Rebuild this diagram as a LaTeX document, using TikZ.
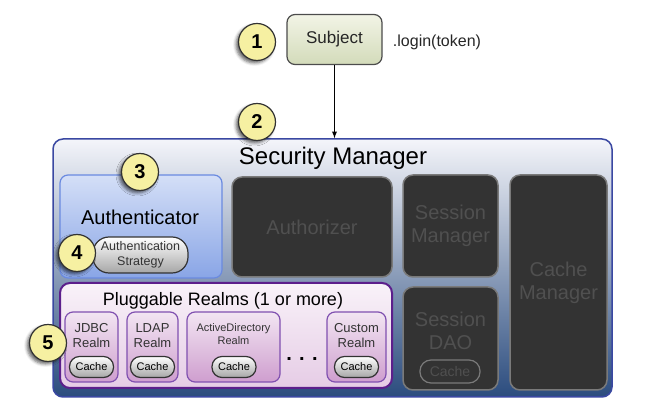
\documentclass[tikz,border=0pt]{standalone}
\usepackage{fontspec}
\setmainfont{Liberation Sans}
\usepackage{tikz}
\usetikzlibrary{arrows,shadows.blur}

\definecolor{smedge}{HTML}{3A48A2}
\definecolor{smtop}{HTML}{F4F5FA}
\definecolor{smmid}{HTML}{A3B2C6}
\definecolor{smbot}{HTML}{2B4C7E}
\definecolor{autop}{HTML}{D4DFF7}
\definecolor{aubot}{HTML}{89A5E6}
\definecolor{auedge}{HTML}{6A8AE0}
\definecolor{darkfill}{HTML}{333333}
\definecolor{darkedge}{HTML}{7A7A7A}
\definecolor{darktext}{HTML}{505050}
\definecolor{plugedge}{HTML}{5C1F8C}
\definecolor{realmedge}{HTML}{8050B0}
\definecolor{numfill}{HTML}{F6F0A2}
\definecolor{subtop}{HTML}{F2F4E6}
\definecolor{subbot}{HTML}{D3DBBA}

\tikzset{
  num/.style={circle, draw=black!80, line width=1.2pt, fill=numfill, minimum size=37pt,
    inner sep=0pt, font=\fontsize{20}{20}\selectfont\bfseries,
    blur shadow={shadow xshift=-2.5pt, shadow yshift=-2.5pt, shadow blur radius=3pt, shadow opacity=60}},
  darkbox/.style={draw=darkedge, line width=1.5pt, fill=darkfill, rounded corners=10pt,
    text=darktext, align=center, font=\fontsize{20}{23}\selectfont},
  realm/.style={draw=realmedge, line width=1.2pt, rounded corners=8pt,
    top color=violet!10!white, bottom color=violet!38!white},
  pill/.style={draw=black!80, line width=1.2pt, rounded corners=10pt, minimum width=44pt,
    minimum height=21pt, inner sep=0pt, top color=white, bottom color=black!35,
    font=\fontsize{11}{11}\selectfont},
  rlabel/.style={align=center, text=black!80, font=\fontsize{13}{15}\selectfont}
}

\begin{document}
\begin{tikzpicture}[>=latex, x=1pt, y=-1pt]
	%\draw [help lines] (0,0) grid (670,411);
	\useasboundingbox (0,0) rectangle (670,411);

	% subject and the call
	\node (subject) at (334.5,39.5) [draw=black!70, line width=1.2pt, rounded corners=8pt,
		minimum width=95pt, minimum height=50pt, top color=subtop, bottom color=subbot,
		text=black!85, font=\fontsize{17}{17}\selectfont] {Subject};
	\node (login) at (437,42) [text=black!85, font=\fontsize{16}{16}\selectfont] {.login(token)};

	% security manager
	\node (secmgr) at (332.5,268) [draw=smedge, line width=1.5pt, rounded corners=10pt,
		minimum width=559pt, minimum height=258pt, top color=smtop, middle color=smmid, bottom color=smbot] {};
	\node (smtitle) at (333,158) [font=\fontsize{24}{24}\selectfont] {Security Manager};
	\draw [-latex, line width=1.3pt] (subject.south) -- (subject.south |- secmgr.north);

	% authenticator
	\node (auth) at (141,226.5) [draw=auedge, line width=1.2pt, rounded corners=8pt,
		minimum width=162pt, minimum height=103pt, top color=autop, bottom color=aubot] {};
	\node (authtitle) at (140,217) [font=\fontsize{20}{20}\selectfont] {Authenticator};
	\node (strategy) at (140.5,255) [pill, rounded corners=16pt, minimum width=95pt, minimum height=36pt,
		align=center, text=black!80, font=\fontsize{12.5}{14.5}\selectfont] {Authentication\\Strategy};

	% the dark parts
	\node (authz) at (312,227) [darkbox, minimum width=160pt, minimum height=100pt] {Authorizer};
	\node (sessmgr) at (450.5,226) [darkbox, minimum width=95pt, minimum height=102pt] {Session\\Manager};
	\node (sessdao) at (450.5,338.5) [darkbox, minimum width=95pt, minimum height=103pt] {};
	\node (daotitle) at (450.5,331) [align=center, text=darktext, font=\fontsize{20}{23}\selectfont] {Session\\DAO};
	\node (daocache) at (450,371.5) [draw=darkedge, line width=1.2pt, rounded corners=11pt,
		minimum width=60pt, minimum height=23pt, text=darktext, font=\fontsize{14}{14}\selectfont] {Cache};
	\node (cachemgr) at (558.5,282.5) [darkbox, minimum width=97pt, minimum height=215pt] {Cache\\Manager};

	% realms
	\node (plug) at (226,335.5) [draw=plugedge, line width=2pt, rounded corners=10pt,
		minimum width=332pt, minimum height=105pt, top color=violet!5!white, bottom color=violet!20!white] {};
	\node (plugtitle) at (223,301) [font=\fontsize{18}{18}\selectfont] {Pluggable Realms (1 or more)};
	\node (jdbc) at (91.5,347) [realm, minimum width=53pt, minimum height=70pt] {};
	\node (ldap) at (152.5,347) [realm, minimum width=51pt, minimum height=70pt] {};
	\node (ad) at (233.5,347) [realm, minimum width=93pt, minimum height=70pt] {};
	\node (custom) at (356.5,347) [realm, minimum width=59pt, minimum height=70pt] {};
	\node (jdbclbl) at (91.5,335.5) [rlabel] {JDBC\\Realm};
	\node (ldaplbl) at (152.5,335.5) [rlabel] {LDAP\\Realm};
	\node (adlbl) at (233.5,334.5) [rlabel, font=\fontsize{11}{13}\selectfont] {ActiveDirectory\\Realm};
	\node (customlbl) at (356.5,335.5) [rlabel] {Custom\\Realm};
	\node (jdbccache) at (91.5,367) [pill] {Cache};
	\node (ldapcache) at (152.5,367) [pill] {Cache};
	\node (adcache) at (234,367) [pill] {Cache};
	\node (customcache) at (356.5,367) [pill] {Cache};
	\node (dots) at (302,359) [font=\fontsize{20}{20}\selectfont\bfseries] {. . .};

	% numbers
	\node (one) at (257,42) [num] {1};
	\node (two) at (257,122) [num] {2};
	\node (three) at (140,172) [num] {3};
	\node (four) at (77,253) [num] {4};
	\node (five) at (48,343) [num] {5};
\end{tikzpicture}
\end{document}
